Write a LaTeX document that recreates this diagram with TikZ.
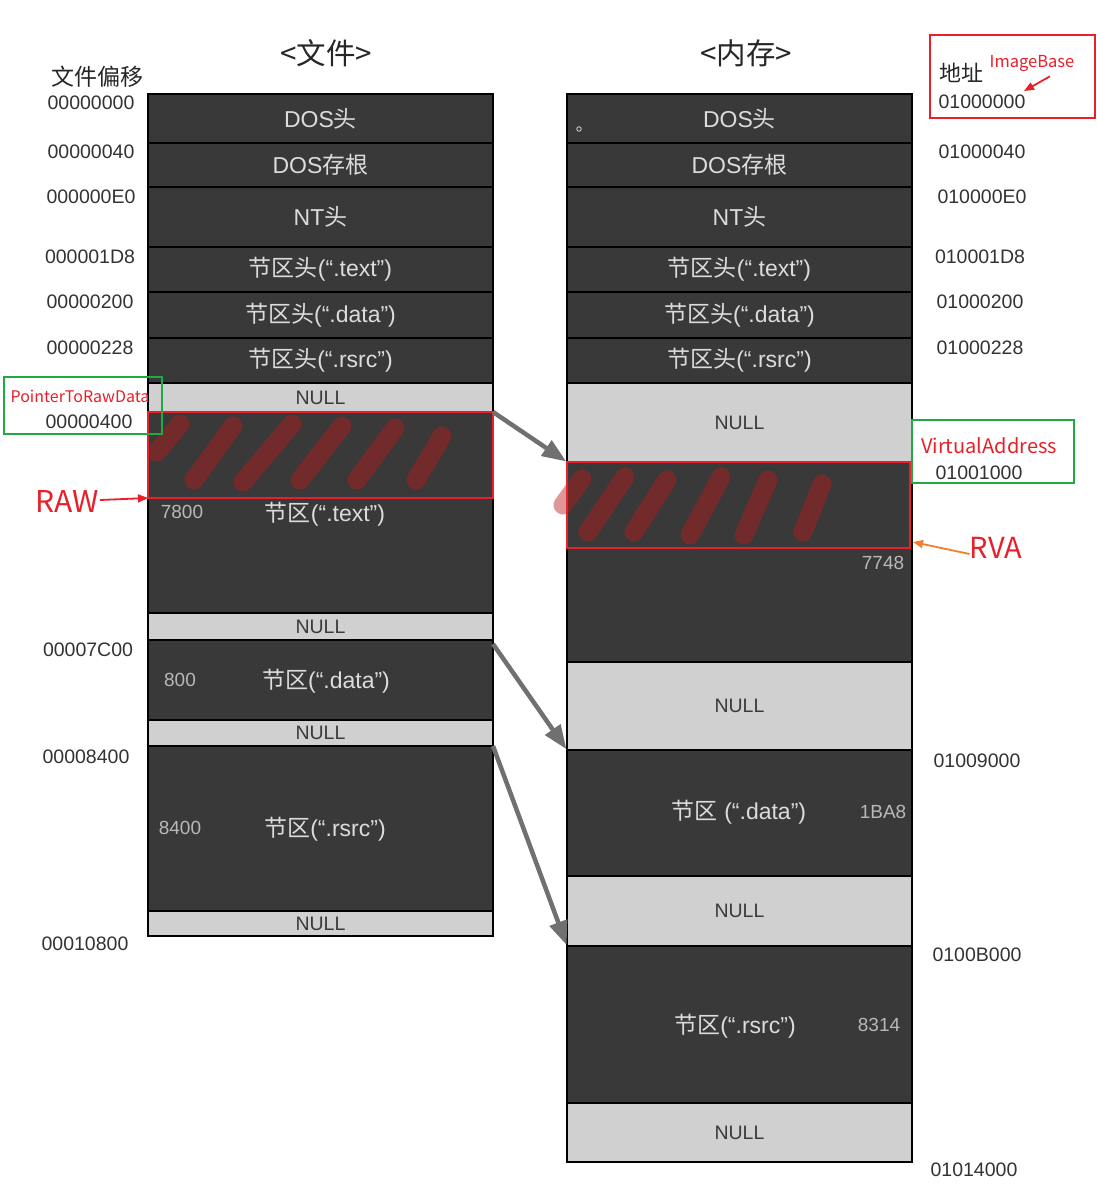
\documentclass[tikz,border=0pt]{standalone}
\usepackage{fontspec}
\setmainfont{Liberation Sans}
\newfontfamily\cjk{Noto Sans CJK SC}
\usetikzlibrary{arrows.meta}
\definecolor{blk}{HTML}{393939}
\definecolor{nul}{HTML}{D0D0D0}
\definecolor{ltxt}{HTML}{DCDCDC}
\definecolor{ntxt}{HTML}{3A3A3A}
\definecolor{numtxt}{HTML}{333333}
\definecolor{smalltxt}{HTML}{B8B8B8}
\definecolor{redl}{HTML}{E8202A}
\definecolor{greenl}{HTML}{22A845}
\definecolor{orangel}{HTML}{F08030}
\definecolor{arrgray}{HTML}{707070}
\definecolor{hatch}{RGB}{185,25,25}
\tikzset{
  blockbase/.style={draw=black, line width=1.2pt, anchor=north west, minimum width=345pt, inner sep=0pt, outer sep=0pt},
  dark/.style={blockbase, fill=blk, text=ltxt, font=\fontsize{23}{23}\selectfont},
  nullbox/.style={blockbase, fill=nul, text=ntxt, font=\fontsize{19.5}{19.5}\selectfont},
  seclabel/.style={text=ltxt, font=\fontsize{23}{23}\selectfont, inner sep=0pt},
  num/.style={text=numtxt, font=\fontsize{19.5}{19.5}\selectfont, inner sep=0pt},
  small/.style={text=smalltxt, font=\fontsize{19}{19}\selectfont, inner sep=0pt},
  title/.style={text=black!85, font=\cjk\fontsize{29.5}{29.5}\selectfont, inner sep=0pt},
  redlab/.style={text=redl, font=\cjk, inner sep=0pt},
  maparrow/.style={draw=arrgray, line width=4.5pt, -{Triangle[length=24pt,width=18pt]}, shorten >=1pt},
  hatchline/.style={draw=hatch, line width=19pt, line cap=round, opacity=0.45},
  markbox/.style={draw=redl, line width=1.6pt},
  greenbox/.style={draw=greenl, line width=1.4pt},
  redarrow/.style={line width=1.8pt, -{Triangle[length=10pt,width=8pt]}},
}
\begin{document}
\begin{tikzpicture}[x=1pt,y=-1pt]
\useasboundingbox (0,0) rectangle (1097,1194);
\fill[white] (0,0) rectangle (1097,1194);

% ---------- file column ----------
\node[dark, minimum height=49pt] (ldos) at (148,94) {DOS{\cjk 头}};
\node[dark, minimum height=44pt] (lstub) at (148,143) {DOS{\cjk 存根}};
\node[dark, minimum height=60pt] (lnt) at (148,187) {NT{\cjk 头}};
\node[dark, minimum height=45pt] (lht) at (148,247) {{\cjk 节区头}(“.text”)};
\node[dark, minimum height=46pt] (lhd) at (148,292) {{\cjk 节区头}(“.data”)};
\node[dark, minimum height=45pt] (lhr) at (148,338) {{\cjk 节区头}(“.rsrc”)};
\node[nullbox, minimum height=29pt] (ln1) at (148,383) {NULL};
\node[dark, minimum height=201pt] (ltext) at (148,412) {};
\node[nullbox, minimum height=27pt] (ln2) at (148,613) {NULL};
\node[dark, minimum height=80pt] (ldata) at (148,640) {};
\node[nullbox, minimum height=26pt] (ln3) at (148,720) {NULL};
\node[dark, minimum height=165pt] (lrsrc) at (148,746) {};
\node[nullbox, minimum height=25pt] (ln4) at (148,911) {NULL};

\node[seclabel] (lttx) at (325,514) {{\cjk 节区}(“.text”)};
\node[seclabel] (ldtx) at (326,681) {{\cjk 节区}(“.data”)};
\node[seclabel] (lrtx) at (325,829) {{\cjk 节区}(“.rsrc”)};
\node[small] (s7800) at (182,512) {7800};
\node[small] (s800) at (180,680) {800};
\node[small] (s8400) at (180,828) {8400};

% ---------- memory column ----------
\node[dark, minimum height=49pt] (rdos) at (567,94) {DOS{\cjk 头}};
\node[dark, minimum height=44pt] (rstub) at (567,143) {DOS{\cjk 存根}};
\node[dark, minimum height=60pt] (rnt) at (567,187) {NT{\cjk 头}};
\node[dark, minimum height=45pt] (rht) at (567,247) {{\cjk 节区头}(“.text”)};
\node[dark, minimum height=46pt] (rhd) at (567,292) {{\cjk 节区头}(“.data”)};
\node[dark, minimum height=45pt] (rhr) at (567,338) {{\cjk 节区头}(“.rsrc”)};
\node[nullbox, minimum height=79pt] (rn1) at (567,383) {NULL};
\node[dark, minimum height=200pt] (rtext) at (567,462) {};
\node[nullbox, minimum height=88pt] (rn2) at (567,662) {NULL};
\node[dark, minimum height=126pt] (rdata) at (567,750) {};
\node[nullbox, minimum height=70pt] (rn3) at (567,876) {NULL};
\node[dark, minimum height=157pt] (rrsrc) at (567,946) {};
\node[nullbox, minimum height=59pt] (rn4) at (567,1103) {NULL};

\node[seclabel] (rdtx) at (739,812) {{\cjk 节区} (“.data”)};
\node[seclabel] (rrtx) at (735,1026) {{\cjk 节区}(“.rsrc”)};
\node[small] (s7748) at (883,563) {7748};
\node[small] (s1BA8) at (883,812) {1BA8};
\node[small] (s8314) at (879,1025) {8314};
\node[draw=ltxt, circle, line width=0.8pt, inner sep=1.6pt] (dot) at (579,129) {};

% ---------- hatching ----------
\begin{scope}
\draw[hatchline] (157,452) -- (180,424);
\draw[hatchline] (194,480) -- (233,426);
\draw[hatchline] (243,482) -- (292,424);
\draw[hatchline] (300,480) -- (342,426);
\draw[hatchline] (357,480) -- (395,428);
\draw[hatchline] (416,480) -- (442,436);
\draw[hatchline] (563,505) -- (582,479);
\draw[hatchline] (588,532) -- (625,477);
\draw[hatchline] (634,532) -- (667,480);
\draw[hatchline] (690,535) -- (721,477);
\draw[hatchline] (744,535) -- (768,480);
\draw[hatchline] (803,532) -- (822,484);
\end{scope}
\draw[markbox] (ltext.north west) rectangle ([yshift=-86pt]ltext.north east);
\draw[markbox] (rtext.north west) rectangle ([xshift=-2pt,yshift=-86pt]rtext.north east);

% ---------- mapping arrows ----------
\draw[maparrow] (ltext.north east) -- (rtext.north west);
\draw[maparrow] ([yshift=-4pt]ldata.north east) -- (rdata.north west);
\draw[maparrow] (lrsrc.north east) -- (rrsrc.north west);

% ---------- titles ----------
\node[title] (tfile) at (326,53) {<文件>};
\node[title] (tmem) at (746,53) {<内存>};
\node[text=black!85, font=\cjk\fontsize{23}{23}\selectfont, inner sep=0pt] (toff) at (97,77) {文件偏移};
\node[text=black!85, font=\cjk\fontsize{22}{22}\selectfont, inner sep=0pt] (taddr) at (961,73) {地址};

% ---------- file offsets ----------
\node[num] (o0) at (91,103) {00000000};
\node[num] (o1) at (91,152) {00000040};
\node[num] (o2) at (91,197) {000000E0};
\node[num] (o3) at (90,257) {000001D8};
\node[num] (o4) at (90,302) {00000200};
\node[num] (o5) at (90,348) {00000228};
\node[num] (o6) at (89,422) {00000400};
\node[num] (o7) at (88,650) {00007C00};
\node[num] (o8) at (86,757) {00008400};
\node[num] (o9) at (85,944) {00010800};

% ---------- memory addresses ----------
\node[num] (a0) at (982,102) {01000000};
\node[num] (a1) at (982,152) {01000040};
\node[num] (a2) at (982,197) {010000E0};
\node[num] (a3) at (980,257) {010001D8};
\node[num] (a4) at (980,302) {01000200};
\node[num] (a5) at (980,348) {01000228};
\node[num] (a6) at (979,473) {01001000};
\node[num] (a7) at (977,761) {01009000};
\node[num] (a8) at (977,955) {0100B000};
\node[num] (a9) at (974,1170) {01014000};

% ---------- annotations ----------
\node[redlab, font=\cjk\fontsize{16}{16}\selectfont] (ptr) at (80,396) {PointerToRawData};
\draw[greenbox] (4,377) rectangle (162,434);
\node[redlab, font=\cjk\fontsize{16.5}{16.5}\selectfont] (ib) at (1032,64) {ImageBase};
\coordinate (ibtip) at (1024,91);
\draw[draw=redl, redarrow] ([xshift=18pt,yshift=-4pt]ib.south) -- (ibtip);
\draw[markbox] (930,35) rectangle (1095,118);
\node[redlab, font=\cjk\fontsize{20}{20}\selectfont] (va) at (989,446) {VirtualAddress};
\draw[greenbox] (912,420) rectangle (1074,483);
\node[redlab, font=\cjk\fontsize{30}{30}\selectfont] (raw) at (67,501) {RAW};
\draw[draw=redl, redarrow] ([xshift=1pt,yshift=1pt]raw.east) -- ([yshift=-86pt]ltext.north west);
\node[redlab, font=\cjk\fontsize{29}{29}\selectfont] (rva) at (996,548) {RVA};
\coordinate (rvatip) at (913,542);
\draw[draw=orangel, redarrow] ([yshift=-6pt]rva.west) -- (rvatip);
\end{tikzpicture}
\end{document}
